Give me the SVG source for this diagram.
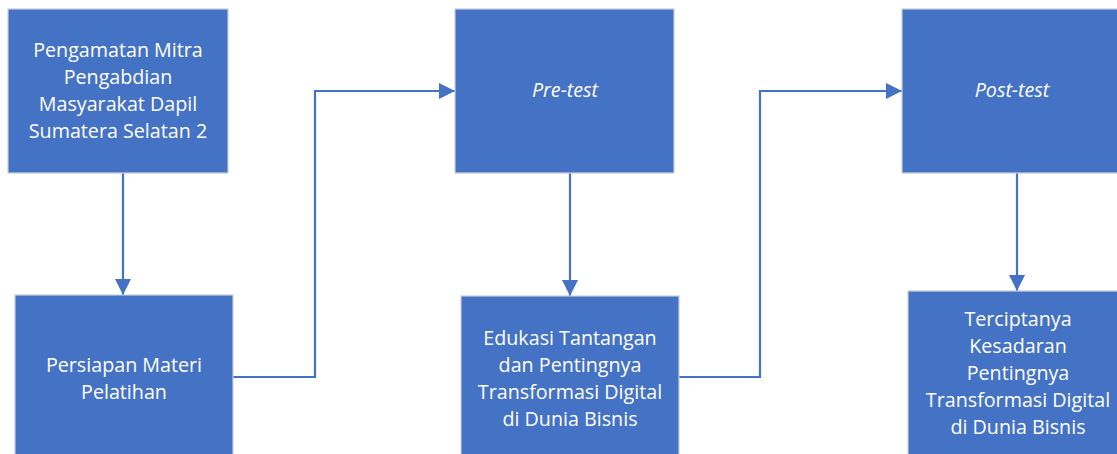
<svg xmlns="http://www.w3.org/2000/svg" width="1117" height="454" viewBox="0 0 1117 454">
<style>
.box{fill:#4472C4;stroke:#C9CED8;stroke-width:1.2}
.t{font-family:"Open Sans","Liberation Sans",sans-serif;font-size:19.7px;fill:#FFFFFF;text-anchor:middle}
.i{font-style:italic}
.c{fill:none;stroke:#4472C4;stroke-width:2.2}
</style>
<defs>
<marker id="ah" markerUnits="userSpaceOnUse" markerWidth="16" markerHeight="16" viewBox="0 0 16 16" refX="16" refY="8" orient="auto">
<path d="M0,0 L16,8 L0,16 Z" fill="#4472C4"/>
</marker>
</defs>
<rect width="1117" height="454" fill="#FFFFFF"/>
<g id="connectors">
<path class="c" d="M123,173 V295" marker-end="url(#ah)"/>
<path class="c" d="M233,377 H315 V91 H455" marker-end="url(#ah)"/>
<path class="c" d="M570,173 V296" marker-end="url(#ah)"/>
<path class="c" d="M679,377 H760 V91 H902" marker-end="url(#ah)"/>
<path class="c" d="M1017,173 V291" marker-end="url(#ah)"/>
</g>
<g id="n1">
<rect class="box" x="8" y="9" width="220" height="164"/>
<text class="t" x="118" y="57">Pengamatan Mitra</text>
<text class="t" x="118" y="84">Pengabdian</text>
<text class="t" x="118" y="111">Masyarakat Dapil</text>
<text class="t" x="118" y="138">Sumatera Selatan 2</text>
</g>
<g id="n2">
<rect class="box" x="15" y="295" width="218" height="175"/>
<text class="t" x="124" y="372">Persiapan Materi</text>
<text class="t" x="124" y="399">Pelatihan</text>
</g>
<g id="n3">
<rect class="box" x="455" y="9" width="219" height="164"/>
<text class="t i" x="565" y="97">Pre-test</text>
</g>
<g id="n4">
<rect class="box" x="461" y="296" width="218" height="175"/>
<text class="t" x="570" y="345">Edukasi Tantangan</text>
<text class="t" x="570" y="372">dan Pentingnya</text>
<text class="t" x="570" y="399">Transformasi Digital</text>
<text class="t" x="570" y="426">di Dunia Bisnis</text>
</g>
<g id="n5">
<rect class="box" x="902" y="9" width="230" height="164"/>
<text class="t i" x="1012" y="97">Post-test</text>
</g>
<g id="n6">
<rect class="box" x="908" y="291" width="230" height="175"/>
<text class="t" x="1018" y="326">Terciptanya</text>
<text class="t" x="1018" y="353">Kesadaran</text>
<text class="t" x="1018" y="380">Pentingnya</text>
<text class="t" x="1018" y="407">Transformasi Digital</text>
<text class="t" x="1018" y="434">di Dunia Bisnis</text>
</g>
</svg>
